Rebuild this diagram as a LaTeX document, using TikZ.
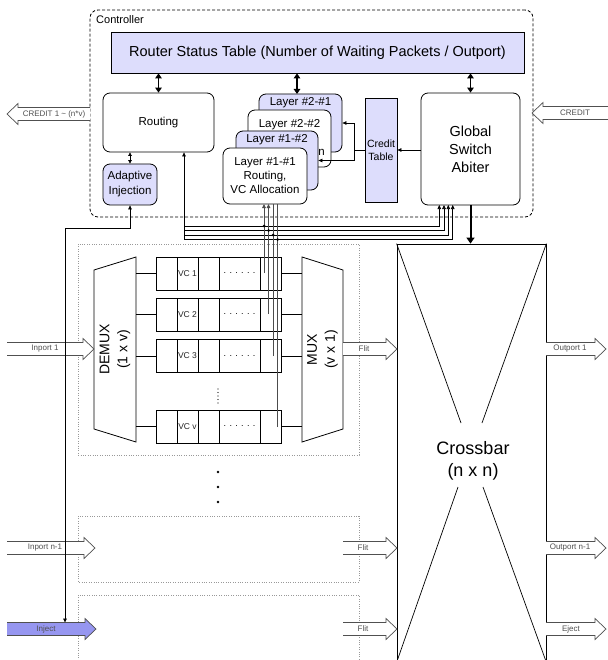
\documentclass[tikz,border=0pt]{standalone}
\usepackage{fontspec}
\setmainfont{Liberation Sans}
\usetikzlibrary{arrows.meta,calc}
\definecolor{lav}{RGB}{221,221,252}
\definecolor{injc}{RGB}{150,150,240}
\definecolor{pg}{RGB}{80,80,80}
\newcommand{\fsz}[2]{\fontsize{#1}{#2}\selectfont}
\newcommand{\portR}[4]{\draw[#1] (#2,#4-6.5) -- (#3-11,#4-6.5) -- (#3-11,#4-10.5) -- (#3,#4) -- (#3-11,#4+10.5) -- (#3-11,#4+6.5) -- (#2,#4+6.5);}
\newcommand{\portL}[4]{\draw[#1] (#2,#4-6.5) -- (#3+11,#4-6.5) -- (#3+11,#4-10.5) -- (#3,#4) -- (#3+11,#4+10.5) -- (#3+11,#4+6.5) -- (#2,#4+6.5);}
\begin{document}
\begin{tikzpicture}[x=1pt,y=-1pt,
  box/.style={draw, rounded corners=7pt, line width=0.8pt, inner sep=0pt, align=center},
  tbl/.style={draw, fill=lav, line width=0.8pt, inner sep=0pt, align=center},
  txt/.style={inner sep=0pt, align=center},
  portlbl/.style={inner sep=0pt, font=\fsz{8}{9}, text=pg},
  portarrow/.style={draw=pg, fill=white, line width=0.7pt},
  wire/.style={line width=0.7pt},
  vw/.style={line width=0.9pt, draw=black!70},
  tip/.style={-{Triangle[length=4pt,width=3.6pt]}},
  dtip/.style={{Triangle[length=3.5pt,width=3.5pt]}-{Triangle[length=3.5pt,width=3.5pt]}},
  bus/.style={line width=1.8pt, {Triangle[length=5pt,width=6.5pt]}-{Triangle[length=5pt,width=6.5pt]}},
  blk/.style={draw=black!40, line width=0.7pt, dash pattern=on 0.8pt off 1.6pt}
]
\fill[white] (0,0) rectangle (607,660);
\useasboundingbox (0,0) rectangle (607,660);

% ---------- input blocks (dotted) ----------
\draw[blk] (78,244) rectangle (359,455);
\draw[blk] (78,516) rectangle (359,582);
\draw[blk] (78,595) rectangle (359,668);

% ---------- controller ----------
\node[draw, rounded corners=8pt, line width=0.8pt, dash pattern=on 3pt off 2pt,
      minimum width=443pt, minimum height=207pt, inner sep=0pt] (ctrl) at (311.5,113.5) {};
\node[anchor=west, inner sep=0pt, font=\fsz{11}{13}] (ctrllbl) at (96,20) {Controller};

\node[tbl, minimum width=413pt, minimum height=41pt, font=\fsz{14.5}{16}] (rst) at (317.5,52.5)
  {Router Status Table (Number of Waiting Packets / Outport)};
\node[box, minimum width=111pt, minimum height=59pt, font=\fsz{11.5}{14}] (routing) at (158.5,122.5) {Routing};
\node[box, fill=lav, minimum width=54pt, minimum height=41pt, font=\fsz{11.5}{15}] (adapt) at (130,184.5) {Adaptive\\Injection};

% layer stack
\node[box, fill=lav, minimum width=83pt, minimum height=58pt] (l21) at (300.5,123) {};
\node[txt, font=\fsz{11.5}{14}] (l21t) at (300.5,103) {Layer \#2-\#1};
\node[box, fill=white, minimum width=83pt, minimum height=57pt] (l22) at (289.5,138.5) {};
\node[txt, font=\fsz{11.5}{14}] (l22t) at (289.5,124.5) {Layer \#2-\#2};
\node[txt, font=\fsz{11.5}{14}] (l22n) at (321.5,152.5) {n};
\node[box, fill=lav, minimum width=82pt, minimum height=59pt] (l12) at (277,160.5) {};
\node[txt, font=\fsz{11.5}{14}] (l12t) at (277,140) {Layer \#1-\#2};
\node[box, fill=white, minimum width=84pt, minimum height=56pt, font=\fsz{11.5}{14}] (l11) at (265,176) {Layer \#1-\#1\\Routing,\\VC Allocation};

\node[tbl, minimum width=32pt, minimum height=104pt, font=\fsz{10.5}{13}] (credit) at (381,150) {Credit\\Table};
\node[box, minimum width=99pt, minimum height=112pt, font=\fsz{14.5}{18}] (gsa) at (470.5,149) {Global\\Switch\\Abiter};

% status table buses
\draw[bus] (rst.south -| routing) -- (routing.north);
\draw[bus] (rst.south -| 297,0) -- (297,94);
\draw[bus] (rst.south -| gsa) -- (gsa.north);
\draw[wire, dtip] (routing.south -| adapt) -- (adapt.north);

% credit table wires
\coordinate (cj) at (354,150);
\draw[wire, tip] (gsa.west |- credit) -- (credit.east);
\draw[wire] (credit.west) -- (cj);
\draw[wire, tip] (cj) |- (l21.east);
\draw[wire, tip] (cj) |- (l12.east);

% ---------- crossbar ----------
\node[draw, line width=0.8pt, minimum width=149pt, minimum height=418pt, inner sep=0pt] (xbar) at (471.5,453) {};
\draw[wire] (xbar.north west) -- (461,423);
\draw[wire] (xbar.north east) -- (482,423);
\draw[wire] (458,487) -- (xbar.south west);
\draw[wire] (483,487) -- (xbar.south east);
\node[txt, font=\fsz{18}{22}] (xbart) at (473,461) {Crossbar\\(n x n)};
\draw[line width=2pt, -{Triangle[length=6pt,width=8pt]}] (gsa.south) -- (gsa.south |- xbar.north);

% ---------- demux / mux ----------
\draw[line width=0.8pt] (94,270) -- (136,257) -- (136,442) -- (94,429) -- cycle;
\node[txt, rotate=90, font=\fsz{14}{18}] (demux) at (115,349.5) {DEMUX\\(1 x v)};
\draw[line width=0.8pt] (302,257) -- (343,270) -- (343,429) -- (302,442) -- cycle;
\node[txt, rotate=90, font=\fsz{14}{18}] (mux) at (322.5,349.5) {MUX\\(v x 1)};

% ---------- VC buffers ----------
\foreach \y/\n/\lab in {273.5/1/VC 1, 314.5/2/VC 2, 356/3/VC 3, 426.5/v/VC v} {
  \node[draw, line width=0.8pt, minimum width=125pt, minimum height=33pt, inner sep=0pt] (vc\n) at (218.5,\y) {};
  \foreach \xx in {177,198,219,260} \draw[line width=0.8pt] (\xx,\y-16.5) -- (\xx,\y+16.5);
  \node[portlbl, text=black!85, font=\fsz{8.5}{10}] (vcl\n) at (187.5,\y) {\lab};
  \node[portlbl, text=black, font=\fsz{9}{10}] (vcd\n) at (239.5,\y) {. . . . . .};
  \draw[wire] (136,\y) -- (vc\n.west);
  \draw[wire] (vc\n.east) -- (302,\y);
}
\foreach \yy in {389,392.5,396,399.5,403} \fill (218,\yy) circle (0.55pt);
\foreach \yy in {472,487,502} \fill (218,\yy) circle (1.4pt);

% ---------- controller wiring bundle ----------
\coordinate (rb) at (184,239.5);
\draw[wire, tip] (rb) -- (rb |- routing.south);
\foreach \yy/\xx in {226/439.3, 230.5/444, 235/448.3, 239.5/452.7}
  \draw[wire, tip] (184,\yy) -| (\xx,205);
\draw[vw, tip] (264,273) -- (264,204);
\draw[vw, tip] (268.5,314) -- (268.5,204);
\draw[vw] (273,356) -- (273,204);
\draw[vw] (277.5,427) -- (277.5,204);
\fill (264,226) circle (1.5pt);
\fill (268.5,230.5) circle (1.5pt);
\fill (273,235) circle (1.5pt);
\fill (277.5,239.5) circle (1.5pt);

% ---------- port arrows ----------
\portR{portarrow}{7}{94}{349}
\node[portlbl] (in1) at (45,349) {Inport 1};
\portR{portarrow}{7}{95}{548}
\node[portlbl] (inn) at (45,548) {Inport n-1};
\portR{portarrow, fill=injc}{7}{96}{629}
\node[portlbl] (inj) at (46,629) {Inject};

\portR{portarrow}{343}{397}{349}
\node[portlbl] (f1) at (364,349) {Flit};
\portR{portarrow}{343}{397}{548}
\node[portlbl] (f2) at (363,548) {Flit};
\portR{portarrow}{343}{397}{629}
\node[portlbl] (f3) at (363,629) {Flit};

\portR{portarrow}{546}{606}{349}
\node[portlbl] (o1) at (570,349) {Outport 1};
\portR{portarrow}{546}{606}{548}
\node[portlbl] (on) at (570,548) {Outport n-1};
\portR{portarrow}{546}{606}{629}
\node[portlbl] (ej) at (571,629) {Eject};

\portL{portarrow}{612}{532}{113}
\node[portlbl] (cr) at (575,113) {CREDIT};
\portL{portarrow}{90}{7}{114}
\node[portlbl] (crl) at (54,114) {CREDIT 1 \char"7E{} (n*v)};

% injection feedback line
\draw[wire, {Triangle[length=4pt,width=3.6pt]}-{Triangle[length=4pt,width=3.6pt]}] (65,622.5) |- (130,228) -- (adapt.south);
\end{tikzpicture}
\end{document}
